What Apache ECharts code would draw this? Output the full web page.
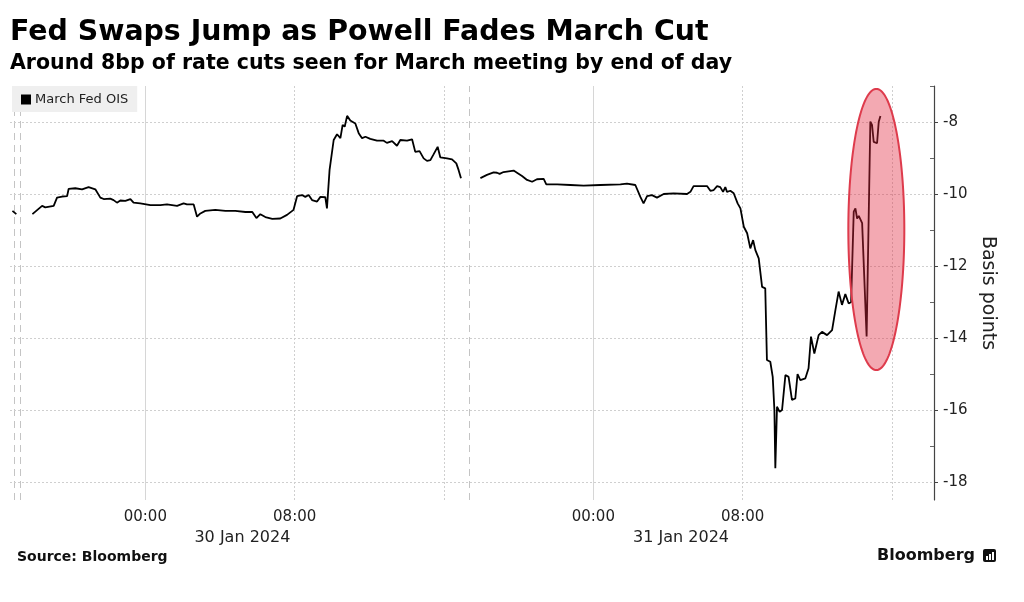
<!DOCTYPE html>
<html>
<head>
<meta charset="utf-8">
<script src="https://cdn.jsdelivr.net/npm/echarts@6/dist/echarts.min.js"></script>
<style>
html,body{margin:0;padding:0;background:#fff;}
#chart{width:1024px;height:602px;}
</style>
</head>
<body>
<div id="chart"></div>
<script>
// ---- Data (hours relative to 30 Jan 2024 00:00; values in basis points) ----
const seriesName = 'March Fed OIS';

const sessionA_hours = [-7.12, -6.91];
const sessionA_bp    = [-10.47, -10.56];

const sessionB_hours = [-6.05,-5.53,-5.36,-4.91,-4.73,-4.46,-4.19,-4.11,-3.75,-3.39,-3.04,-2.68,-2.41,-2.23,-1.88,-1.70,-1.52,-1.34,-1.07,-0.80,-0.63,-0.27,0.27,0.80,1.16,1.70,2.05,2.23,2.59,2.77,2.95,3.21,3.75,4.29,4.82,5.36,5.73,5.95,6.16,6.43,6.80,7.23,7.59,7.94,8.13,8.39,8.57,8.75,8.93,9.20,9.38,9.64,9.73,9.87,10.09,10.27,10.45,10.57,10.68,10.81,10.98,11.25,11.43,11.61,11.79,12.05,12.41,12.77,12.94,13.22,13.48,13.66,14.02,14.29,14.46,14.69,14.91,15.09,15.27,15.44,15.66,15.80,16.16,16.43,16.66,16.78,16.88,16.91];
const sessionB_bp    = [-10.56,-10.33,-10.37,-10.33,-10.10,-10.07,-10.06,-9.86,-9.84,-9.87,-9.81,-9.87,-10.10,-10.14,-10.13,-10.17,-10.24,-10.18,-10.19,-10.14,-10.24,-10.26,-10.31,-10.31,-10.29,-10.33,-10.26,-10.29,-10.29,-10.63,-10.54,-10.47,-10.44,-10.47,-10.47,-10.50,-10.50,-10.67,-10.56,-10.64,-10.69,-10.68,-10.58,-10.44,-10.06,-10.03,-10.08,-10.03,-10.17,-10.21,-10.08,-10.09,-10.40,-9.33,-8.50,-8.34,-8.45,-8.08,-8.13,-7.83,-7.96,-8.04,-8.31,-8.45,-8.41,-8.47,-8.52,-8.52,-8.58,-8.53,-8.66,-8.50,-8.52,-8.48,-8.83,-8.81,-9.01,-9.08,-9.06,-8.90,-8.69,-8.98,-9.01,-9.04,-9.15,-9.33,-9.33,-9.56];

const sessionC_hours = [17.95,18.30,18.66,18.84,18.98,19.19,19.73,19.91,20.18,20.45,20.72,20.98,21.34,21.48,22.06,22.77,23.48,24.38,25.45,25.80,26.25,26.52,26.69,26.88,27.14,27.41,27.77,28.30,29.02,29.20,29.37,29.73,30.09,30.27,30.45,30.63,30.80,30.95,31.07,31.16,31.34,31.52,31.73,31.88,32.06,32.24,32.41,32.56,32.68,32.86,33.04,33.21,33.30,33.48,33.61,33.70,33.75,33.84,33.98,34.11,34.29,34.46,34.64,34.82,34.94,35.09,35.36,35.53,35.66,35.84,36.07,36.25,36.52,36.79,36.97,37.14,37.32,37.50,37.68,37.81,37.95,38.04,38.13,38.22,38.40,38.64,38.84,38.93,39.02,39.20,39.29,39.38];
const sessionC_bp    = [-9.56,-9.47,-9.40,-9.41,-9.44,-9.39,-9.35,-9.41,-9.50,-9.61,-9.66,-9.59,-9.58,-9.73,-9.73,-9.75,-9.77,-9.75,-9.73,-9.71,-9.75,-10.08,-10.26,-10.06,-10.03,-10.10,-10.00,-9.98,-10.00,-9.94,-9.78,-9.78,-9.78,-9.91,-9.89,-9.78,-9.81,-9.94,-9.81,-9.94,-9.91,-9.98,-10.26,-10.40,-10.91,-11.09,-11.51,-11.28,-11.56,-11.79,-12.58,-12.62,-14.61,-14.66,-15.08,-16.00,-17.62,-15.91,-16.05,-16.00,-15.03,-15.08,-15.72,-15.68,-15.00,-15.17,-15.12,-14.84,-13.96,-14.43,-13.92,-13.83,-13.92,-13.78,-13.22,-12.71,-13.08,-12.78,-13.04,-13.00,-10.49,-10.40,-10.68,-10.61,-10.81,-13.96,-7.99,-8.08,-8.55,-8.59,-7.99,-7.83];

// Axis ticks / labels
const xTickHours  = [0, 8, 24, 32];
const xTickLabels = ['00:00', '08:00', '00:00', '08:00'];
const dateLabelHours = [5.2, 28.7];
const dateLabels     = ['30 Jan 2024', '31 Jan 2024'];
const yTicks      = [-18, -16, -14, -12, -10, -8];
const yMinorTicks = [-17, -15, -13, -11, -9, -7];

// Vertical reference lines (hours)
const dayBoundaries  = [0, 24];
const hourGridLines  = [8, 16, 32, 40];
const sessionBreaks  = [-7.0, -6.68, 17.35];

// Highlight annotation extent (hours, bp)
const highlightHours = [37.66, 40.66];
const highlightBp    = [-14.89, -7.08];

// ---- Build ----
function seg(h, v) { return h.map((x, i) => [x, v[i]]); }
const lineData = []
  .concat(seg(sessionA_hours, sessionA_bp), [[-6.5, null]])
  .concat(seg(sessionB_hours, sessionB_bp), [[17.4, null]])
  .concat(seg(sessionC_hours, sessionC_bp));

const FONT = 'DejaVu Sans';
const markLines = []
  .concat(dayBoundaries.map(h => ({ xAxis: h, lineStyle: { type: 'solid', color: '#d6d6d6', width: 1 } })))
  .concat(hourGridLines.map(h => ({ xAxis: h, lineStyle: { type: [2, 2], color: '#cfcfcf', width: 1 } })))
  .concat(sessionBreaks.map(h => ({ xAxis: h, lineStyle: { type: [7, 5], color: '#c4c4c4', width: 1 } })))
  .concat(yTicks.map(v => ({ yAxis: v, lineStyle: { type: [2, 2], color: '#cfcfcf', width: 1 } })));

const chart = echarts.init(document.getElementById('chart'), null, { renderer: 'canvas' });

const option = {
  backgroundColor: '#fff',
  animation: false,
  title: [
    { text: 'Fed Swaps Jump as Powell Fades March Cut', left: 10, top: 19, padding: 0,
      textStyle: { fontFamily: FONT, fontWeight: 'bold', fontSize: 28.4, color: '#000' } },
    { text: 'Around 8bp of rate cuts seen for March meeting by end of day', left: 10, top: 53, padding: 0,
      textStyle: { fontFamily: FONT, fontWeight: 'bold', fontSize: 20.5, color: '#000' } }
  ],
  legend: {
    data: [seriesName], left: 12, top: 86, padding: [7, 9, 6, 9],
    backgroundColor: '#efefef', icon: 'rect', itemWidth: 10, itemHeight: 10, itemGap: 4,
    textStyle: { fontFamily: FONT, fontSize: 13, color: '#222', padding: [0, 0, 0, -1] },
    z: 10
  },
  grid: { left: 10, right: 90, top: 86, bottom: 102, containLabel: false },
  xAxis: [
    { type: 'value', min: -7.25, max: 42.25,
      axisLine: { show: false, onZero: false }, axisTick: { show: false }, splitLine: { show: false },
      axisLabel: { customValues: xTickHours, margin: 10, fontFamily: FONT, fontSize: 15, color: '#222',
        formatter: v => xTickLabels[xTickHours.indexOf(v)] || '' } },
    { type: 'value', min: -7.25, max: 42.25, position: 'bottom', offset: 0,
      axisLine: { show: false, onZero: false }, axisTick: { show: false }, splitLine: { show: false },
      axisLabel: { customValues: dateLabelHours, margin: 30, fontFamily: FONT, fontSize: 16, color: '#222',
        formatter: v => dateLabels[dateLabelHours.indexOf(v)] || '' } }
  ],
  yAxis: [
    { type: 'value', position: 'right', min: -18.5, max: -7,
      axisLine: { show: true, onZero: false, lineStyle: { color: '#444', width: 1.2 } },
      axisTick: { show: true, customValues: yTicks, length: 4, lineStyle: { color: '#444' } },
      axisLabel: { customValues: yTicks, margin: 9, fontFamily: FONT, fontSize: 15, color: '#222' },
      splitLine: { show: false },
      name: 'Basis points', nameLocation: 'middle', nameRotate: -90, nameGap: 44,
      nameTextStyle: { fontFamily: FONT, fontSize: 19, color: '#222' } },
    { type: 'value', position: 'right', min: -18.5, max: -7,
      axisLine: { show: false, onZero: false },
      axisTick: { show: true, customValues: yMinorTicks, inside: true, length: 4, lineStyle: { color: '#666' } },
      axisLabel: { show: false }, splitLine: { show: false } }
  ],
  series: [{
    name: seriesName, type: 'line', data: lineData, xAxisIndex: 0, yAxisIndex: 0,
    showSymbol: false, symbol: 'none', connectNulls: false,
    lineStyle: { color: '#000', width: 1.8 }, itemStyle: { color: '#000' },
    z: 5,
    markLine: { silent: true, symbol: ['none', 'none'], label: { show: false }, data: markLines, z: 1 }
  }]
};
chart.setOption(option);

// Highlight ellipse computed from data extent
const pA = chart.convertToPixel({ gridIndex: 0 }, [highlightHours[0], highlightBp[1]]);
const pB = chart.convertToPixel({ gridIndex: 0 }, [highlightHours[1], highlightBp[0]]);
const cx = (pA[0] + pB[0]) / 2, cy = (pA[1] + pB[1]) / 2;
const rx = Math.abs(pB[0] - pA[0]) / 2, ry = Math.abs(pB[1] - pA[1]) / 2;
const pts = [];
for (let i = 0; i < 180; i++) {
  const t = i / 180 * Math.PI * 2;
  pts.push([cx + rx * Math.cos(t), cy + ry * Math.sin(t)]);
}

chart.setOption({
  graphic: [
    { type: 'polygon', shape: { points: pts }, z: 100,
      style: { fill: 'rgba(226,40,62,0.40)', stroke: '#de3b4c', lineWidth: 2 } },
    { type: 'text', left: 17, top: 550, z: 100,
      style: { text: 'Source: Bloomberg', fontFamily: FONT, fontWeight: 'bold', fontSize: 14, fill: '#111' } },
    { type: 'text', right: 49, top: 548, z: 100,
      style: { text: 'Bloomberg', fontFamily: FONT, fontWeight: 'bold', fontSize: 16, fill: '#111' } },
    { type: 'group', right: 28, top: 549, z: 100, children: [
      { type: 'rect', shape: { x: 0, y: 0, width: 13, height: 13, r: 2 }, style: { fill: '#111' } },
      { type: 'rect', shape: { x: 3, y: 7, width: 2, height: 4 }, style: { fill: '#fff' } },
      { type: 'rect', shape: { x: 6, y: 5, width: 2, height: 6 }, style: { fill: '#fff' } },
      { type: 'rect', shape: { x: 9, y: 3, width: 2, height: 8 }, style: { fill: '#fff' } }
    ]}
  ]
});
</script>
</body>
</html>
